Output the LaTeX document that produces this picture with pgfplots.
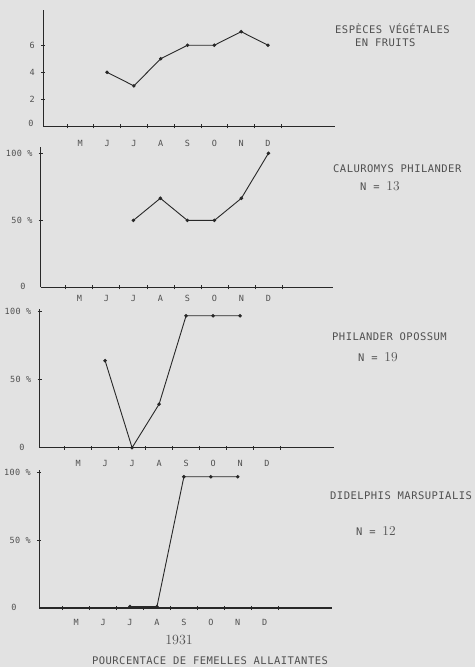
\documentclass[border=0pt]{standalone}
\usepackage{pgfplots}
\pgfplotsset{compat=1.18}
\usepackage{fontspec}
\newfontfamily\tw[LetterSpace=4.5]{DejaVu Sans Mono}
\definecolor{bg}{RGB}{226,226,226}
\definecolor{ink}{RGB}{40,40,40}
\definecolor{txt}{RGB}{80,80,80}
\newcommand{\tickfont}{\tw\fontsize{8.5}{10}\selectfont}
\newcommand{\titlefont}{\tw\fontsize{10.5}{12}\selectfont}
\newcommand{\digits}[1]{{\rmfamily\fontsize{13.5}{14}\selectfont #1}}
\pgfplotsset{
  panel/.style={
    scale only axis, anchor=south west, clip=false,
    axis x line=bottom, axis y line=left,
    axis line style={-, draw=ink},
    x axis line style={line width=1.1pt},
    y axis line style={line width=0.8pt},
    tick align=center,
    xtick={1,2,3,4,5,6,7,8},
    xticklabels={M,J,J,A,S,O,N,D},
    minor xtick={0.5,1.5,2.5,3.5,4.5,5.5,6.5,7.5,8.5},
    major tick length=4pt, minor tick length=4pt,
    every tick/.style={draw=ink, line width=0.7pt},
    major x tick style={draw=none},
    xticklabel style={font=\tickfont, text=txt, anchor=center},
    yticklabel style={font=\tickfont, text=txt, anchor=east, inner xsep=6pt},
    extra y ticks={0}, extra y tick labels={0},
  },
  dataline/.style={ink, line width=0.9pt, mark=*, mark size=1.3pt,
    mark options={fill=ink, draw=ink}},
}
\begin{document}
\begin{tikzpicture}
\useasboundingbox (0,0) rectangle (475pt,667pt);
\fill[bg] (0,0) rectangle (475pt,667pt);

% Panel 1 : especes vegetales en fruits
\begin{axis}[panel, at={(43pt,540.5pt)}, width=292pt, height=116.5pt,
  xmin=-0.39, xmax=10.5, ymin=0, ymax=8.6,
  ytick={2,4,6}, yticklabels={2,4,6},
  xticklabel style={yshift=-15.2pt},
  extra y tick style={major tick length=0pt,
    yticklabel style={anchor=center, xshift=-12pt, yshift=3.5pt}}]
\addplot[dataline] coordinates {(2,4) (3,3) (4,5) (5,6) (6,6) (7,7) (8,6)};
\end{axis}

% Panel 2 : Caluromys philander
\begin{axis}[panel, at={(40.7pt,379.5pt)}, width=292pt, height=140.5pt,
  xmin=-0.43, xmax=10.38, ymin=0, ymax=104.7,
  ytick={50,100}, yticklabels={50 \%,100 \%},
  xticklabel style={yshift=-9.2pt},
  extra y tick style={major tick length=0pt,
    yticklabel style={anchor=center, xshift=-17.7pt, yshift=1.5pt}}]
\addplot[dataline] coordinates {(3,50) (4,66.5) (5,50) (6,50) (7,66.5) (8,100)};
\end{axis}

% Panel 3 : Philander opossum
\begin{axis}[panel, at={(39.5pt,219.3pt)}, width=294.5pt, height=138.7pt,
  xmin=-0.43, xmax=10.48, ymin=0, ymax=102,
  ytick={50,100}, yticklabels={50 \%,100 \%},
  xticklabel style={yshift=-14pt},
  extra y tick style={major tick length=0pt,
    yticklabel style={anchor=center, xshift=-17.5pt, yshift=0.7pt}}]
\addplot[dataline] coordinates {(2,64) (3,0) (4,32) (5,97) (6,97) (7,97)};
\end{axis}

% Panel 4 : Didelphis marsupialis
\begin{axis}[panel, at={(39pt,59pt)}, width=293pt, height=138pt,
  xmin=-0.38, xmax=10.5, ymin=0, ymax=102,
  ytick={50,100}, yticklabels={50 \%,100 \%},
  xticklabel style={yshift=-12.7pt},
  extra y tick style={major tick length=0pt,
    yticklabel style={anchor=center, xshift=-25pt, yshift=1pt}}]
\addplot[dataline] coordinates {(3,1) (4,1) (5,97) (6,97) (7,97)};
\end{axis}

% Titles
\begin{scope}[every node/.style={text=txt, inner sep=0pt, anchor=base west}]
\node[font=\titlefont] at (335pt,633.7pt) {ESPÈCES VÉGÉTALES};
\node[font=\titlefont] at (355pt,620.3pt) {EN FRUITS};
\node[font=\titlefont] at (333pt,494.7pt) {CALUROMYS PHILANDER};
\node[font=\titlefont] at (360pt,476.5pt) {N = \digits{13}};
\node[font=\titlefont] at (332pt,326.3pt) {PHILANDER OPOSSUM};
\node[font=\titlefont] at (358pt,305.3pt) {N = \digits{19}};
\node[font=\titlefont] at (330pt,167pt) {DIDELPHIS MARSUPIALIS};
\node[font=\titlefont] at (356pt,131pt) {N = \digits{12}};
\node[anchor=base, font=\rmfamily\fontsize{14}{15}\selectfont] at (179pt,22pt) {1931};
\node[anchor=base, font=\titlefont] at (210pt,2pt) {POURCENTACE DE FEMELLES ALLAITANTES};
\end{scope}
\end{tikzpicture}
\end{document}
